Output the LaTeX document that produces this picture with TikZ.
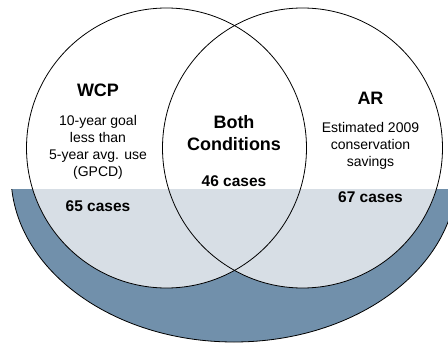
\documentclass[tikz,border=0pt]{standalone}
\usepackage{fontspec}
\setmainfont{Liberation Sans}
\definecolor{shadowblue}{RGB}{113,144,171}
\definecolor{lightfill}{RGB}{215,222,229}
\tikzset{
  title/.style={font=\fontsize{18}{21}\selectfont\bfseries, anchor=base, inner sep=0pt},
  body/.style={font=\fontsize{14}{16}\selectfont, anchor=base, inner sep=0pt},
  count/.style={font=\fontsize{15.5}{18}\selectfont\bfseries, anchor=base, inner sep=0pt},
  ring/.style={draw=black, line width=0.8pt}
}
\begin{document}
\begin{tikzpicture}[x=1pt, y=-1pt]
\useasboundingbox (0,0) rectangle (448,343);
\fill[white] (0,0) rectangle (448,343);
\begin{scope}
  \clip (0,189) rectangle (448,343);
  \fill[shadowblue] (234,175) ellipse [x radius=223pt, y radius=167pt];
  \draw[ring] (234,175) ellipse [x radius=223pt, y radius=167pt];
  \fill[lightfill] (166.5,148) circle [radius=140pt];
  \fill[lightfill] (302.5,148) circle [radius=140pt];
\end{scope}
\draw[ring] (166.5,148) circle [radius=140pt];
\draw[ring] (302.5,148) circle [radius=140pt];
% left set
\node[title] (wcp) at (98,96) {WCP};
\node[body] (wcpa) at (98,125) {10-year goal};
\node[body] (wcpb) at (98,142) {less than};
\node[body] (wcpc) at (98,159) {5-year avg. use};
\node[body] (wcpd) at (98,176) {(GPCD)};
\node[count] (wcpn) at (98,211.5) {65 cases};
% overlap
\node[title] (both) at (234,128.3) {Both};
\node[title] (cond) at (234,150) {Conditions};
\node[count] (bothn) at (234,186.3) {46 cases};
% right set
\node[title] (ar) at (370.5,104) {AR};
\node[body] (ara) at (370.5,132.5) {Estimated 2009};
\node[body] (arb) at (370.5,149.3) {conservation};
\node[body] (arc) at (370.5,166.3) {savings};
\node[count] (arn) at (370.5,202) {67 cases};
\end{tikzpicture}
\end{document}
